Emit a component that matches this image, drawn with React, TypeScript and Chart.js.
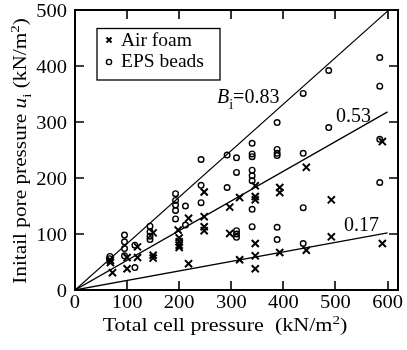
import React, { useEffect, useRef } from "react";
import { Chart, registerables } from "chart.js";

Chart.register(...registerables);

// ---- data ----
const airFoamX = [68, 68, 72, 100, 100, 120, 120, 150, 150, 150, 198, 200, 200, 200, 200, 218, 218, 248, 248, 248, 248, 297, 297, 316, 316, 346, 346, 346, 346, 346, 346, 393, 393, 393, 444, 444, 492, 492, 590, 590];
const airFoamY = [53, 49, 31, 58, 38, 77, 58, 102, 62, 57, 107, 93, 86, 80, 76, 128, 47, 175, 131, 113, 106, 148, 101, 165, 54, 186, 167, 161, 83, 61, 38, 183, 174, 67, 219, 71, 161, 95, 265, 83];
const epsX = [67, 66, 95, 95, 95, 95, 115, 115, 144, 144, 144, 144, 193, 193, 193, 193, 193, 212, 212, 242, 242, 242, 292, 292, 310, 310, 310, 310, 310, 340, 340, 340, 340, 340, 340, 340, 340, 388, 388, 388, 388, 388, 388, 438, 438, 438, 438, 487, 487, 585, 585, 585, 585];
const epsY = [60, 56, 98, 86, 74, 61, 80, 40, 114, 104, 96, 90, 172, 160, 152, 142, 127, 150, 116, 233, 187, 156, 241, 183, 236, 210, 106, 100, 94, 262, 243, 238, 214, 204, 195, 144, 113, 299, 251, 244, 240, 112, 90, 351, 244, 147, 83, 392, 290, 415, 364, 269, 192];
const lineSlopes = [0.83, 0.53, 0.17];
const lineEndX = 600;
const lineLabels = ["=0.83", "0.53", "0.17"];
const xTicks = [0, 100, 200, 300, 400, 500, 600];
const yTicks = [0, 100, 200, 300, 400, 500];
const legendLabels = ["Air foam", "EPS beads"];
const xTitle = "Total cell pressure  (kN/m";
const yTitle = "Initail pore pressure ";

const FAM = "'Liberation Serif', 'Times New Roman', serif";

type Seg = { t: string; it?: boolean; sub?: boolean; sup?: boolean };

function drawRich(
  ctx: CanvasRenderingContext2D,
  segs: Seg[],
  x: number,
  y: number,
  size: number,
  align: "left" | "center" | "right",
  stretch = 1
) {
  const fontOf = (s: Seg) => `${s.it ? "italic " : ""}${s.sub || s.sup ? Math.round(size * 0.7) : size}px ${FAM}`;
  let total = 0;
  for (const s of segs) { ctx.font = fontOf(s); total += ctx.measureText(s.t).width; }
  ctx.save();
  ctx.translate(x, y);
  ctx.scale(stretch, 1);
  let cx = align === "center" ? -total / 2 : align === "right" ? -total : 0;
  ctx.textAlign = "left";
  ctx.textBaseline = "alphabetic";
  for (const s of segs) {
    ctx.font = fontOf(s);
    const dy = s.sub ? size * 0.28 : s.sup ? -size * 0.38 : 0;
    ctx.fillText(s.t, cx, dy);
    cx += ctx.measureText(s.t).width;
  }
  ctx.restore();
}

const decor = {
  id: "decor",
  afterDraw(chart: any) {
    const ctx: CanvasRenderingContext2D = chart.ctx;
    const { left, right, top, bottom } = chart.chartArea;
    const xs = chart.scales.x, ys = chart.scales.y;
    ctx.save();
    ctx.strokeStyle = "#000";
    ctx.fillStyle = "#000";
    // frame
    ctx.lineWidth = 2;
    ctx.strokeRect(left, top, right - left, bottom - top);
    // inward ticks
    const tl = 9;
    ctx.lineWidth = 1.6;
    ctx.beginPath();
    for (const v of xTicks.slice(1)) {
      const px = Math.round(xs.getPixelForValue(v));
      ctx.moveTo(px, bottom); ctx.lineTo(px, bottom - tl);
      ctx.moveTo(px, top); ctx.lineTo(px, top + tl);
    }
    for (const v of yTicks.slice(1, -1)) {
      const py = Math.round(ys.getPixelForValue(v));
      ctx.moveTo(left, py); ctx.lineTo(left + tl, py);
      ctx.moveTo(right, py); ctx.lineTo(right - tl, py);
    }
    ctx.stroke();

    // tick labels
    for (const v of xTicks) {
      drawRich(ctx, [{ t: String(v) }], xs.getPixelForValue(v), 308, 19, "center", 1.08);
    }
    for (const v of yTicks) {
      drawRich(ctx, [{ t: String(v) }], 67, ys.getPixelForValue(v) + 6.5, 19, "right", 1.08);
    }

    // legend
    ctx.lineWidth = 1.3;
    ctx.strokeRect(97, 28.5, 123, 51.5);
    ctx.lineWidth = 2;
    ctx.beginPath();
    ctx.moveTo(106.5, 37.5); ctx.lineTo(111.5, 42.5);
    ctx.moveTo(111.5, 37.5); ctx.lineTo(106.5, 42.5);
    ctx.stroke();
    ctx.lineWidth = 1.4;
    ctx.beginPath();
    ctx.arc(109, 62, 2.6, 0, Math.PI * 2);
    ctx.stroke();
    drawRich(ctx, [{ t: legendLabels[0] }], 121, 46, 19.5, "left");
    drawRich(ctx, [{ t: legendLabels[1] }], 121, 67, 19.5, "left");

    // line annotations
    drawRich(ctx, [{ t: "B", it: true }, { t: "i", sub: true }, { t: lineLabels[0] }], 217, 103, 20, "left");
    drawRich(ctx, [{ t: lineLabels[1] }], 336, 122, 20, "left");
    drawRich(ctx, [{ t: lineLabels[2] }], 344, 231, 20, "left");

    // x title
    drawRich(ctx, [{ t: xTitle }, { t: "2", sup: true }, { t: ")" }], 225, 331, 19, "center", 1.16);
    // y title
    ctx.save();
    ctx.translate(26, 151);
    ctx.rotate(-Math.PI / 2);
    drawRich(ctx, [{ t: yTitle }, { t: "u", it: true }, { t: "i", sub: true }, { t: " (kN/m" }, { t: "2", sup: true }, { t: ")" }], 0, 0, 18.5, "center", 1.15);
    ctx.restore();
    ctx.restore();
  },
};

export default function App() {
  const ref = useRef<HTMLCanvasElement>(null);
  useEffect(() => {
    document.body.style.margin = "0";
    const lineSets = lineSlopes.map((s) => ({
      data: [{ x: 0, y: 0 }, { x: lineEndX, y: s * lineEndX }],
      showLine: true,
      borderColor: "#000",
      borderWidth: 1.3,
      pointRadius: 0,
    }));
    const chart = new Chart(ref.current!, {
      type: "scatter",
      data: {
        datasets: [
          {
            label: legendLabels[0],
            data: airFoamX.map((x, i) => ({ x, y: airFoamY[i] })),
            pointStyle: "crossRot",
            pointRadius: 5,
            borderColor: "#000",
            borderWidth: 2,
            backgroundColor: "#000",
          },
          {
            label: legendLabels[1],
            data: epsX.map((x, i) => ({ x, y: epsY[i] })),
            pointStyle: "circle",
            pointRadius: 2.8,
            borderColor: "#000",
            borderWidth: 1.4,
            backgroundColor: "rgba(0,0,0,0)",
          },
          ...lineSets,
        ] as any,
      },
      options: {
        responsive: false,
        animation: false,
        events: [],
        layout: { padding: { top: 10, right: 9, left: 0, bottom: 0 } },
        plugins: { legend: { display: false }, tooltip: { enabled: false } },
        scales: {
          x: {
            type: "linear",
            min: 0,
            max: 620,
            grid: { display: false, drawTicks: false },
            border: { display: false },
            afterFit: (s: any) => { s.height = 60; },
            ticks: { display: false, stepSize: 100, includeBounds: false },
          },
          y: {
            type: "linear",
            min: 0,
            max: 500,
            grid: { display: false, drawTicks: false },
            border: { display: false },
            afterFit: (s: any) => { s.width = 75; },
            ticks: { display: false, stepSize: 100 },
          },
        },
      },
      plugins: [decor],
    });
    return () => chart.destroy();
  }, []);
  return (
    <div style={{ width: 407, height: 350, background: "#fff" }}>
      <canvas ref={ref} width={407} height={350} />
    </div>
  );
}
